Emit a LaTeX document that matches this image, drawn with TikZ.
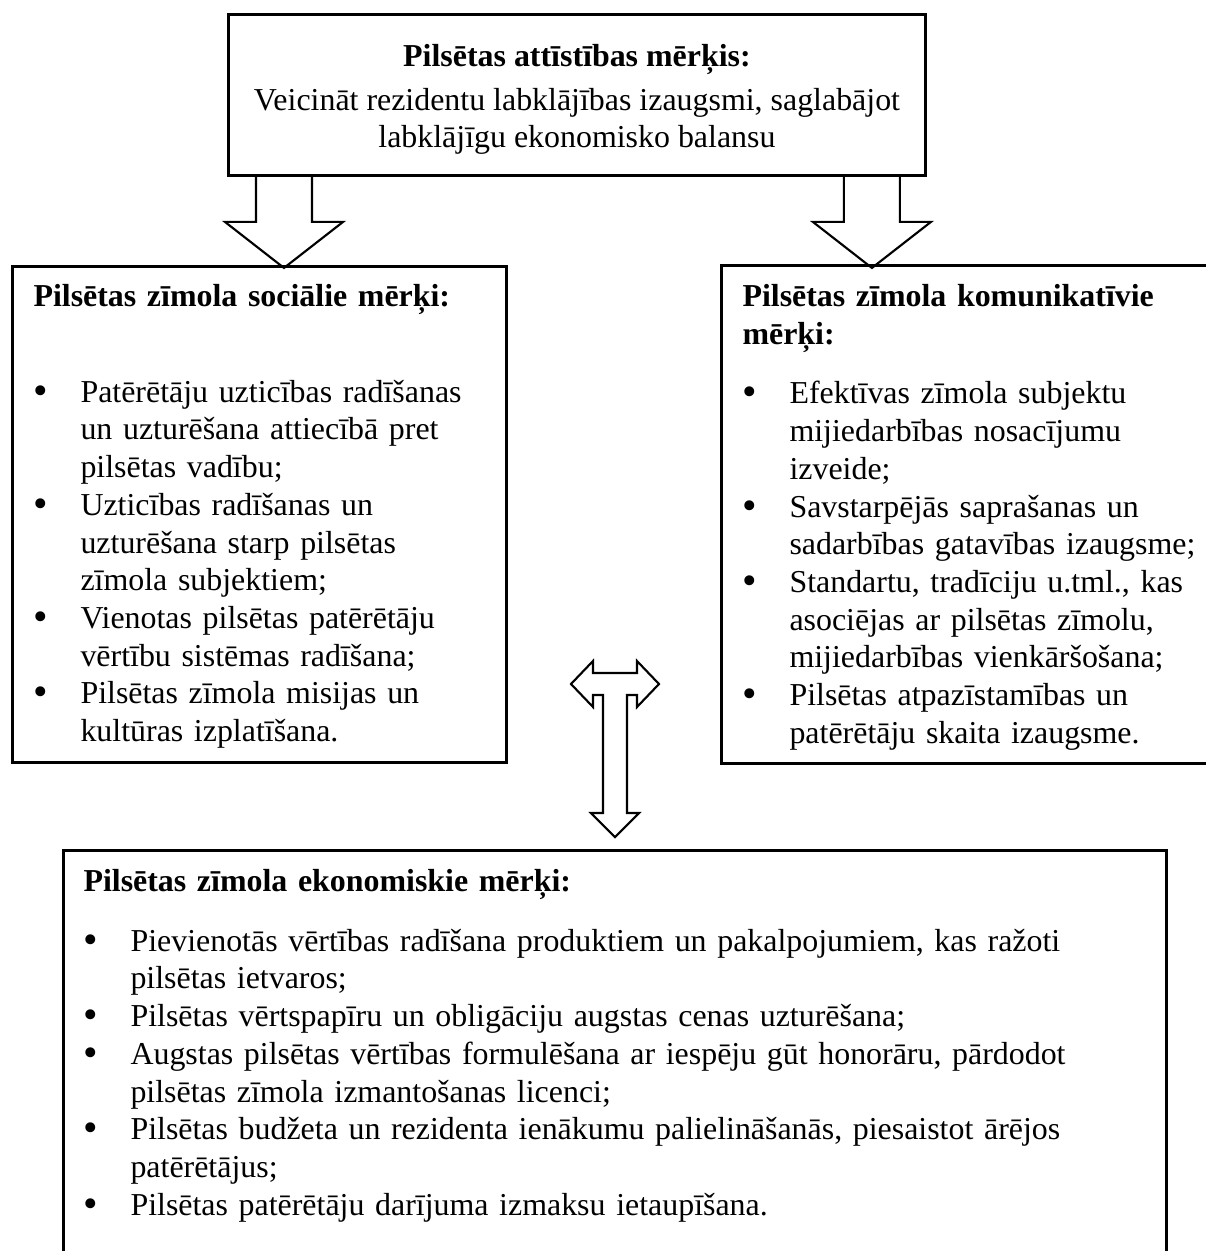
\documentclass[tikz,border=0pt]{standalone}
\usepackage{fontspec}
\usepackage{graphicx}
\setmainfont{Liberation Serif}
\usetikzlibrary{calc}

\newlength{\pxl}
\setlength{\pxl}{0.376pt}
\newcommand{\goalitem}[1]{\par\noindent\hangindent=47\pxl\hangafter=1\makebox[47\pxl][l]{\raisebox{-0.06em}{\scalebox{1.3}{\textbullet}}}#1}

\begin{document}
\begin{tikzpicture}[x=0.376pt,y=-0.376pt,
    downblock/.pic={\draw[thick] (-28,0) -- (-28,45) -- (-59,45) -- (0,91) -- (59,45) -- (28,45) -- (28,0);},
    tblock/.pic={\draw[thick] (-44,0) -- (-22,-23) -- (-22,-11) -- (22,-11) -- (22,-23) -- (44,0)
        -- (22,23) -- (22,11) -- (12,11) -- (12,129) -- (24,129) -- (0,153) -- (-24,129)
        -- (-12,129) -- (-12,11) -- (-22,11) -- (-22,23) -- cycle;}]
\useasboundingbox (0,0) rectangle (1205,1251);
\begin{scope}[every node/.style={draw,line width=1.1pt,anchor=north west,inner sep=0pt}]
    \node[minimum width=697*\pxl,minimum height=161*\pxl] (goal) at (227,13) {};
    \node[minimum width=494*\pxl,minimum height=496*\pxl] (social) at (11,265) {};
    \node[minimum width=520*\pxl,minimum height=498*\pxl] (comm) at (720,264) {};
    \node[minimum width=1103*\pxl,minimum height=450*\pxl] (econ) at (62,849) {};
\end{scope}
\begin{scope}[every node/.style={anchor=north west,inner sep=0pt,align=left,
              font=\fontsize{12pt}{14.18pt}\selectfont}]
    \node[anchor=north,align=center] (goaltxt) at ($(goal.north)+(0,26.6)$)
        {\strut\textbf{Pilsētas attīstības mērķis:}\\[6\pxl]
         Veicināt rezidentu labklājības izaugsmi, saglabājot\\
         labklājīgu ekonomisko balansu};
    \node[text width=465*\pxl] (socialtxt) at ($(social.north west)+(22,14.6)$)
        {\strut\textbf{Pilsētas zīmola sociālie mērķi:}\par\vspace{58\pxl}
         \goalitem{Patērētāju uzticības radīšanas\newline un uzturēšana attiecībā pret\newline pilsētas vadību;}
         \goalitem{Uzticības radīšanas un\newline uzturēšana starp pilsētas\newline zīmola subjektiem;}
         \goalitem{Vienotas pilsētas patērētāju\newline vērtību sistēmas radīšana;}
         \goalitem{Pilsētas zīmola misijas un\newline kultūras izplatīšana.}\par};
    \node[text width=470*\pxl] (commtxt) at ($(comm.north west)+(22,15.6)$)
        {\strut\textbf{Pilsētas zīmola komunikatīvie\newline mērķi:}\par\vspace{22\pxl}
         \goalitem{Efektīvas zīmola subjektu\newline mijiedarbības nosacījumu\newline izveide;}
         \goalitem{Savstarpējās saprašanas un\newline sadarbības gatavības izaugsme;}
         \goalitem{Standartu, tradīciju u.tml., kas\newline asociējas ar pilsētas zīmolu,\newline mijiedarbības vienkāršošana;}
         \goalitem{Pilsētas atpazīstamības un\newline patērētāju skaita izaugsme.}\par};
    \node[text width=1070*\pxl] (econtxt) at ($(econ.north west)+(21,15.6)$)
        {\strut\textbf{Pilsētas zīmola ekonomiskie mērķi:}\par\vspace{22\pxl}
         \goalitem{Pievienotās vērtības radīšana produktiem un pakalpojumiem, kas ražoti\newline pilsētas ietvaros;}
         \goalitem{Pilsētas vērtspapīru un obligāciju augstas cenas uzturēšana;}
         \goalitem{Augstas pilsētas vērtības formulēšana ar iespēju gūt honorāru, pārdodot\newline pilsētas zīmola izmantošanas licenci;}
         \goalitem{Pilsētas budžeta un rezidenta ienākumu palielināšanās, piesaistot ārējos\newline patērētājus;}
         \goalitem{Pilsētas patērētāju darījuma izmaksu ietaupīšana.}\par};
\end{scope}
\path ($(goal.south west)+(57,0)$) pic {downblock};
\path ($(goal.south east)+(-55,0)$) pic {downblock};
\coordinate (hub) at (615,684);
\path (hub) pic {tblock};
\end{tikzpicture}
\end{document}
